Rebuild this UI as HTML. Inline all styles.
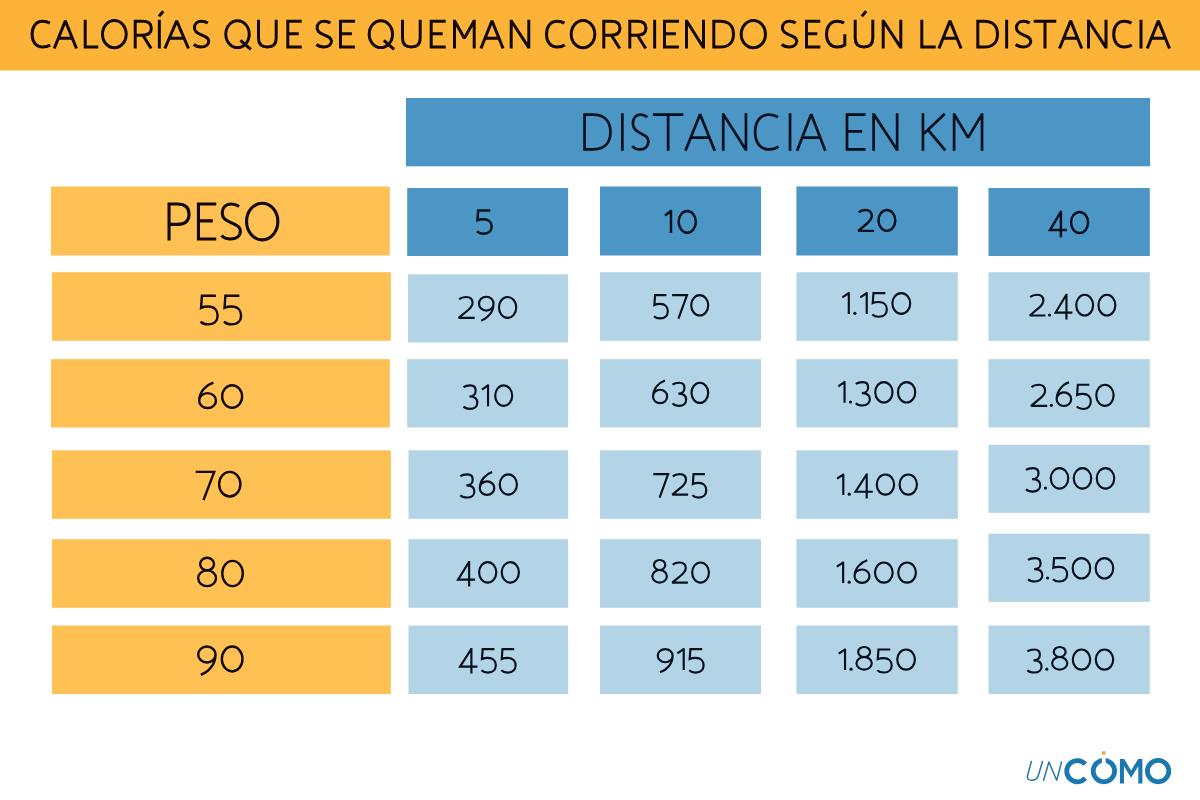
<!DOCTYPE html>
<html lang="es"><head><meta charset="utf-8"><title>Calorías que se queman corriendo según la distancia</title>
<style>
html,body{margin:0;padding:0;background:#fff}
body{width:1200px;height:800px;overflow:hidden;position:relative;font-family:"Liberation Sans",sans-serif}
svg{position:absolute;left:0;top:0;display:block}
.c{position:absolute;display:flex;align-items:center;justify-content:center;color:transparent;font-family:"Liberation Sans",sans-serif;font-size:30px;white-space:nowrap;overflow:hidden}
.logo{position:absolute;left:1025px;top:750px;width:147px;height:36px;color:transparent;font-size:20px;overflow:hidden}
</style></head><body>
<svg width="1200" height="800" viewBox="0 0 1200 800">
<g>
<rect x="0" y="0" width="1200.00" height="70.50" fill="#FDB338"/>
<rect x="406" y="98" width="744.00" height="68.30" fill="#4C96C6"/>
<rect x="51" y="186.5" width="338.80" height="69.00" fill="#FFC054"/>
<rect x="407.2" y="188" width="160.90" height="68.00" fill="#4C96C6"/>
<rect x="600" y="186.5" width="161.00" height="69.00" fill="#4C96C6"/>
<rect x="796.4" y="186.5" width="161.40" height="69.00" fill="#4C96C6"/>
<rect x="988.5" y="188" width="161.30" height="68.00" fill="#4C96C6"/>
<rect x="52" y="272.2" width="338.80" height="68.60" fill="#FFC054"/>
<rect x="51" y="359.2" width="338.80" height="68.30" fill="#FFC054"/>
<rect x="52" y="450.3" width="338.80" height="68.50" fill="#FFC054"/>
<rect x="52" y="539.2" width="338.80" height="68.60" fill="#FFC054"/>
<rect x="52" y="625.5" width="338.80" height="68.50" fill="#FFC054"/>
<rect x="408" y="274.3" width="160.10" height="68.20" fill="#B3D3E7"/>
<rect x="600" y="272.2" width="161.00" height="68.60" fill="#B3D3E7"/>
<rect x="796.4" y="272.2" width="161.40" height="68.60" fill="#B3D3E7"/>
<rect x="988.5" y="272.2" width="161.30" height="68.60" fill="#B3D3E7"/>
<rect x="407.2" y="359.2" width="160.90" height="68.30" fill="#B3D3E7"/>
<rect x="600" y="359.2" width="161.00" height="68.30" fill="#B3D3E7"/>
<rect x="796.4" y="359.2" width="161.40" height="68.30" fill="#B3D3E7"/>
<rect x="988.5" y="359.2" width="161.30" height="68.30" fill="#B3D3E7"/>
<rect x="408.5" y="450.3" width="159.60" height="68.50" fill="#B3D3E7"/>
<rect x="600" y="450.3" width="161.00" height="68.50" fill="#B3D3E7"/>
<rect x="796.4" y="450.3" width="161.40" height="68.50" fill="#B3D3E7"/>
<rect x="988.5" y="444.8" width="161.30" height="68.00" fill="#B3D3E7"/>
<rect x="408.5" y="539.2" width="159.60" height="68.60" fill="#B3D3E7"/>
<rect x="600" y="539.2" width="161.00" height="68.60" fill="#B3D3E7"/>
<rect x="796.4" y="539.2" width="161.40" height="68.60" fill="#B3D3E7"/>
<rect x="988.5" y="533.7" width="161.30" height="68.10" fill="#B3D3E7"/>
<rect x="408.5" y="625.5" width="159.60" height="68.50" fill="#B3D3E7"/>
<rect x="600" y="625.5" width="161.00" height="68.50" fill="#B3D3E7"/>
<rect x="796.4" y="625.5" width="161.40" height="68.50" fill="#B3D3E7"/>
<rect x="988.5" y="625.5" width="161.30" height="68.50" fill="#B3D3E7"/>
</g>
<g fill="none" stroke="#120906" stroke-width="3.0" stroke-miterlimit="4">
<path d="M49.84,23.10 C47.67,21.81 45.31,21.30 42.60,21.30 C36.08,21.30 32.10,26.44 32.10,34.15 C32.10,41.86 36.08,47.00 42.60,47.00 C45.31,47.00 47.85,46.49 50.20,44.94"/>
<path stroke-linejoin="bevel" d="M54.20,48.50 L65.35,20.85 L76.50,48.50 M58.62,38.26 L72.08,38.26"/>
<path d="M85.20,19.80 V47.00 H98.30"/>
<ellipse cx="114.35" cy="34.15" rx="11.85" ry="13.65"/>
<path d="M135.20,48.50 V21.30 H142.34 C148.80,21.30 151.35,23.87 151.35,28.24 C151.35,32.61 148.80,35.18 142.34,35.18 H135.20 M142.85,35.18 L151.15,48.50"/>
<path d="M159.35,19.80 V48.50 M158.95,16.40 L163.25,11.20"/>
<path stroke-linejoin="bevel" d="M164.90,48.50 L176.70,20.85 L188.50,48.50 M169.57,38.26 L183.83,38.26"/>
<path d="M207.75,23.10 C205.80,21.81 203.70,21.30 201.60,21.30 C197.10,21.30 194.40,23.87 194.40,27.98 C194.40,31.84 197.55,33.38 201.30,34.92 C205.80,36.72 208.80,38.01 208.80,41.09 C208.80,44.69 205.80,47.00 201.00,47.00 C198.30,47.00 195.60,46.23 193.80,44.43"/>
<ellipse cx="237.51" cy="34.15" rx="11.71" ry="13.45"/><path d="M240.44,40.32 L250.80,49.40"/>
<path d="M258.50,19.80 V38.26 C258.50,44.43 262.04,47.00 267.35,47.00 C272.66,47.00 276.20,44.43 276.20,38.26 V19.80"/>
<path d="M301.70,21.30 H287.80 V47.00 H301.70 M287.80,33.64 H298.71"/>
<path d="M330.45,23.10 C328.50,21.81 326.40,21.30 324.30,21.30 C319.80,21.30 317.10,23.87 317.10,27.98 C317.10,31.84 320.25,33.38 324.00,34.92 C328.50,36.72 331.50,38.01 331.50,41.09 C331.50,44.69 328.50,47.00 323.70,47.00 C321.00,47.00 318.30,46.23 316.50,44.43"/>
<path d="M355.00,21.30 H340.50 V47.00 H355.00 M340.50,33.64 H351.94"/>
<ellipse cx="380.86" cy="34.15" rx="11.66" ry="13.45"/><path d="M383.78,40.32 L394.10,49.40"/>
<path d="M402.50,19.80 V38.26 C402.50,44.43 406.04,47.00 411.35,47.00 C416.66,47.00 420.20,44.43 420.20,38.26 V19.80"/>
<path d="M445.70,21.30 H431.20 V47.00 H445.70 M431.20,33.64 H442.64"/>
<path stroke-linejoin="bevel" d="M454.50,48.50 V19.80 M454.50,20.70 L464.35,38.26 L474.20,20.70 M474.20,19.80 V48.50"/>
<path stroke-linejoin="bevel" d="M480.90,48.50 L492.00,20.85 L503.10,48.50 M485.30,38.26 L498.70,38.26"/>
<path stroke-linejoin="bevel" d="M511.20,48.50 V19.80 M511.20,20.70 L528.80,47.60 M528.80,48.50 V19.80"/>
<path d="M564.43,23.10 C562.24,21.81 559.86,21.30 557.11,21.30 C550.53,21.30 546.50,26.44 546.50,34.15 C546.50,41.86 550.53,47.00 557.11,47.00 C559.86,47.00 562.42,46.49 564.80,44.94"/>
<ellipse cx="583.00" cy="34.15" rx="11.80" ry="13.65"/>
<path d="M603.80,48.50 V21.30 H610.94 C617.40,21.30 619.95,23.87 619.95,28.24 C619.95,32.61 617.40,35.18 610.94,35.18 H603.80 M611.45,35.18 L619.75,48.50"/>
<path d="M629.80,48.50 V21.30 H636.94 C643.40,21.30 645.95,23.87 645.95,28.24 C645.95,32.61 643.40,35.18 636.94,35.18 H629.80 M637.45,35.18 L645.75,48.50"/>
<path d="M654.65,19.80 V48.50"/>
<path d="M679.00,21.30 H664.50 V47.00 H679.00 M664.50,33.64 H675.94"/>
<path stroke-linejoin="bevel" d="M686.50,48.50 V19.80 M686.50,20.70 L703.50,47.60 M703.50,48.50 V19.80"/>
<path d="M713.80,21.30 V47.00 H720.10 C729.17,47.00 733.50,41.86 733.50,34.15 C733.50,26.44 729.17,21.30 720.10,21.30 Z"/>
<ellipse cx="753.35" cy="34.15" rx="12.15" ry="13.65"/>
<path d="M795.75,23.10 C793.80,21.81 791.70,21.30 789.60,21.30 C785.10,21.30 782.40,23.87 782.40,27.98 C782.40,31.84 785.55,33.38 789.30,34.92 C793.80,36.72 796.80,38.01 796.80,41.09 C796.80,44.69 793.80,47.00 789.00,47.00 C786.30,47.00 783.60,46.23 781.80,44.43"/>
<path d="M820.30,21.30 H806.50 V47.00 H820.30 M806.50,33.64 H817.32"/>
<path d="M844.07,23.10 C842.05,21.81 839.68,21.30 837.11,21.30 C830.53,21.30 826.50,26.44 826.50,34.15 C826.50,41.86 830.53,47.00 837.11,47.00 C840.22,47.00 842.97,46.23 844.80,44.94 V34.15"/>
<path d="M855.20,19.80 V38.26 C855.20,44.43 858.72,47.00 864.00,47.00 C869.28,47.00 872.80,44.43 872.80,38.26 V19.80"/><path d="M861.80,16.40 L866.20,11.10"/>
<path stroke-linejoin="bevel" d="M883.20,48.50 V19.80 M883.20,20.70 L900.80,47.60 M900.80,48.50 V19.80"/>
<path d="M921.80,19.80 V47.00 H935.70"/>
<path stroke-linejoin="bevel" d="M938.90,48.50 L950.00,20.85 L961.10,48.50 M943.30,38.26 L956.70,38.26"/>
<path d="M977.80,21.30 V47.00 H984.10 C993.17,47.00 997.50,41.86 997.50,34.15 C997.50,26.44 993.17,21.30 984.10,21.30 Z"/>
<path d="M1006.65,19.80 V48.50"/>
<path d="M1029.75,23.10 C1027.80,21.81 1025.70,21.30 1023.60,21.30 C1019.10,21.30 1016.40,23.87 1016.40,27.98 C1016.40,31.84 1019.55,33.38 1023.30,34.92 C1027.80,36.72 1030.80,38.01 1030.80,41.09 C1030.80,44.69 1027.80,47.00 1023.00,47.00 C1020.30,47.00 1017.60,46.23 1015.80,44.43"/>
<path d="M1033.70,21.30 H1056.30 M1045.00,21.30 V48.50"/>
<path stroke-linejoin="bevel" d="M1059.50,48.50 L1070.65,20.85 L1081.80,48.50 M1063.92,38.26 L1077.38,38.26"/>
<path stroke-linejoin="bevel" d="M1088.50,48.50 V19.80 M1088.50,20.70 L1106.00,47.60 M1106.00,48.50 V19.80"/>
<path d="M1131.44,23.10 C1129.27,21.81 1126.91,21.30 1124.20,21.30 C1117.68,21.30 1113.70,26.44 1113.70,34.15 C1113.70,41.86 1117.68,47.00 1124.20,47.00 C1126.91,47.00 1129.45,46.49 1131.80,44.94"/>
<path d="M1141.00,19.80 V48.50"/>
<path stroke-linejoin="bevel" d="M1147.20,48.50 L1158.35,20.85 L1169.50,48.50 M1151.62,38.26 L1165.08,38.26"/>
</g>
<g fill="none" stroke="#04101c" stroke-width="2.7" stroke-miterlimit="4">
<path d="M584.55,114.65 V149.45 H592.84 C604.75,149.45 610.45,142.49 610.45,132.05 C610.45,121.61 604.75,114.65 592.84,114.65 Z"/>
<path d="M622.33,113.30 V150.80"/>
<path d="M647.27,117.09 C645.17,115.35 642.91,114.65 640.65,114.65 C635.80,114.65 632.90,118.13 632.90,123.70 C632.90,128.92 636.29,131.01 640.33,133.09 C645.17,135.53 648.40,137.27 648.40,141.45 C648.40,146.32 645.17,149.45 640.00,149.45 C637.10,149.45 634.19,148.41 632.25,145.97"/>
<path d="M653.00,114.65 H683.30 M668.15,114.65 V150.80"/>
<path stroke-linejoin="bevel" d="M685.48,150.80 L700.10,114.24 L714.72,150.80 M691.20,137.62 L709.00,137.62"/>
<path stroke-linejoin="bevel" d="M723.25,150.80 V113.30 M723.25,114.11 L745.95,149.99 M745.95,150.80 V113.30"/>
<path d="M777.98,117.09 C775.19,115.35 772.16,114.65 768.66,114.65 C760.28,114.65 755.15,121.61 755.15,132.05 C755.15,142.49 760.28,149.45 768.66,149.45 C772.16,149.45 775.42,148.75 778.45,146.67"/>
<path d="M790.05,113.30 V150.80"/>
<path stroke-linejoin="bevel" d="M797.08,150.80 L811.20,114.24 L825.32,150.80 M802.61,137.62 L819.79,137.62"/>
<path d="M865.60,114.65 H847.00 V149.45 H865.60 M847.00,131.35 H862.18"/>
<path stroke-linejoin="bevel" d="M873.60,150.80 V113.30 M873.60,114.11 L897.15,149.99 M897.15,150.80 V113.30"/>
<path d="M922.95,113.30 V150.80 M944.80,113.84 L924.07,133.44 M927.86,129.61 L945.25,150.40"/>
<path stroke-linejoin="bevel" d="M954.10,150.80 V113.30 M954.10,114.11 L968.08,137.62 L982.05,114.11 M982.05,113.30 V150.80"/>
</g>
<g fill="none" stroke="#120906" stroke-width="3.1" stroke-miterlimit="4">
<path d="M169.05,240.60 V204.05 H177.45 C186.05,204.05 189.05,208.25 189.05,214.20 C189.05,220.50 186.05,224.35 177.45,224.35 H169.05"/>
<path d="M216.25,204.05 H198.45 V239.05 H216.25 M198.45,220.85 H212.75"/>
<path d="M239.03,206.50 C236.59,204.75 233.96,204.05 231.33,204.05 C225.69,204.05 222.30,207.55 222.30,213.15 C222.30,218.40 226.25,220.50 230.95,222.60 C236.59,225.05 240.35,226.80 240.35,231.00 C240.35,235.90 236.59,239.05 230.57,239.05 C227.19,239.05 223.81,238.00 221.55,235.55"/>
<ellipse cx="262.20" cy="221.55" rx="15.65" ry="18.30"/>
</g>
<g fill="none" stroke="#04101c" color="#04101c" stroke-width="2.45" stroke-miterlimit="2.5">
<path d="M490.21,210.53 L478.20,210.53 L477.46,220.25 C479.22,219.44 481.42,219.23 483.62,219.23 C488.75,219.23 491.68,222.27 491.68,226.52 C491.68,230.78 488.75,233.67 483.62,233.67 C480.69,233.67 478.49,232.80 477.03,231.38"/>
</g>
<g fill="none" stroke="#04101c" color="#04101c" stroke-width="2.45" stroke-miterlimit="2.5">
<path d="M664.98,215.57 L671.71,210.53 M670.98,210.10 L670.98,233.10"/>
<ellipse cx="687.24" cy="221.85" rx="8.64" ry="10.82"/>
</g>
<g fill="none" stroke="#04101c" color="#04101c" stroke-width="2.45" stroke-miterlimit="2.5">
<path d="M858.76,212.27 C860.50,210.60 862.67,209.97 865.56,209.97 C869.61,209.97 871.78,212.48 871.78,215.83 C871.78,218.96 869.90,220.84 867.88,222.72 L858.33,230.88 L874.02,230.88"/>
<ellipse cx="886.90" cy="220.42" rx="8.38" ry="10.45"/>
</g>
<g fill="none" stroke="#04101c" color="#04101c" stroke-width="2.45" stroke-miterlimit="2.5">
<path d="M1060.88,211.68 L1050.08,229.96 L1066.96,229.96 M1060.88,210.70 L1060.88,237.14"/>
<ellipse cx="1079.58" cy="222.45" rx="8.50" ry="10.53"/>
</g>
<g fill="none" stroke="#120906" color="#120906" stroke-width="2.4" stroke-miterlimit="2.5">
<path d="M215.93,295.80 L201.92,295.80 L201.06,307.80 C203.11,306.80 205.68,306.55 208.24,306.55 C214.22,306.55 217.63,310.30 217.63,315.55 C217.63,320.80 214.22,324.38 208.24,324.38 C204.82,324.38 202.26,323.30 200.55,321.55"/>
<path d="M239.39,295.80 L225.38,295.80 L224.53,307.80 C226.58,306.80 229.14,306.55 231.70,306.55 C237.68,306.55 241.10,310.30 241.10,315.55 C241.10,320.80 237.68,324.38 231.70,324.38 C228.29,324.38 225.72,323.30 224.02,321.55"/>
</g>
<g fill="none" stroke="#120906" color="#120906" stroke-width="2.4" stroke-miterlimit="2.5">
<path d="M213.44,382.60 C205.90,384.97 199.20,391.98 199.20,400.57 A8.38,7.23 0 1 0 215.95,400.57 A8.38,7.23 0 1 0 199.20,400.57"/>
<ellipse cx="232.13" cy="396.50" rx="9.97" ry="11.30"/>
</g>
<g fill="none" stroke="#120906" color="#120906" stroke-width="2.4" stroke-miterlimit="2.5">
<path d="M195.70,471.90 L214.21,471.90 L203.48,500.19"/>
<ellipse cx="229.77" cy="484.20" rx="10.63" ry="12.30"/>
</g>
<g fill="none" stroke="#120906" color="#120906" stroke-width="2.4" stroke-miterlimit="2.5">
<ellipse cx="207.09" cy="564.05" rx="6.94" ry="6.30"/><ellipse cx="207.09" cy="578.23" rx="8.89" ry="7.87"/>
<ellipse cx="232.54" cy="573.50" rx="10.26" ry="12.60"/>
</g>
<g fill="none" stroke="#120906" color="#120906" stroke-width="2.4" stroke-miterlimit="2.5">
<path d="M200.80,674.75 C208.61,672.00 215.54,664.50 215.54,654.50 A8.67,8.00 0 1 0 198.20,654.50 A8.67,8.00 0 1 0 215.54,654.50"/>
<ellipse cx="232.18" cy="659.00" rx="10.32" ry="12.50"/>
</g>
<g fill="none" stroke="#04101c" color="#04101c" stroke-width="2.15" stroke-miterlimit="2.5">
<path d="M459.12,299.28 C460.92,297.60 463.16,296.97 466.14,296.97 C470.32,296.97 472.56,299.49 472.56,302.84 C472.56,305.98 470.62,307.87 468.53,309.75 L458.68,317.93 L474.68,317.93"/>
<path d="M481.23,320.65 C487.74,318.34 493.53,312.06 493.53,303.68 A7.24,6.70 0 1 0 479.06,303.68 A7.24,6.70 0 1 0 493.53,303.68"/>
<ellipse cx="507.60" cy="307.45" rx="8.62" ry="10.48"/>
</g>
<g fill="none" stroke="#04101c" color="#04101c" stroke-width="2.15" stroke-miterlimit="2.5">
<path d="M666.41,295.18 L655.08,295.18 L654.39,304.94 C656.05,304.13 658.12,303.93 660.19,303.93 C665.03,303.93 667.79,306.98 667.79,311.25 C667.79,315.53 665.03,318.44 660.19,318.44 C657.43,318.44 655.36,317.56 653.98,316.14"/>
<path d="M672.13,295.18 L687.02,295.18 L678.45,318.58"/>
<ellipse cx="699.72" cy="305.35" rx="8.50" ry="10.18"/>
</g>
<g fill="none" stroke="#04101c" color="#04101c" stroke-width="2.15" stroke-miterlimit="2.5">
<path d="M842.38,297.43 L849.44,292.64 M848.80,292.30 L848.80,314.10"/>
<circle cx="854.88" cy="313.30" r="1.60" stroke="none" fill="currentColor"/>
<path d="M860.31,297.43 L867.38,292.64 M866.73,292.30 L866.73,314.10"/>
<path d="M885.36,293.07 L873.45,293.07 L872.73,303.03 C874.47,302.20 876.65,302.00 878.82,302.00 C883.91,302.00 886.81,305.11 886.81,309.47 C886.81,313.82 883.91,316.79 878.82,316.79 C875.92,316.79 873.74,315.90 872.29,314.45"/>
<ellipse cx="901.30" cy="303.45" rx="8.93" ry="10.37"/>
</g>
<g fill="none" stroke="#04101c" color="#04101c" stroke-width="2.15" stroke-miterlimit="2.5">
<path d="M1030.21,297.06 C1031.96,295.40 1034.15,294.77 1037.07,294.77 C1041.15,294.77 1043.34,297.26 1043.34,300.58 C1043.34,303.70 1041.44,305.56 1039.40,307.43 L1029.78,315.53 L1045.43,315.53"/>
<circle cx="1049.53" cy="315.00" r="1.60" stroke="none" fill="currentColor"/>
<path d="M1066.45,294.56 L1055.62,312.56 L1072.35,312.56 M1066.45,293.70 L1066.45,319.46"/>
<ellipse cx="1084.67" cy="305.15" rx="8.42" ry="10.38"/>
<ellipse cx="1106.90" cy="305.15" rx="8.42" ry="10.38"/>
</g>
<g fill="none" stroke="#04101c" color="#04101c" stroke-width="2.15" stroke-miterlimit="2.5">
<path d="M463.47,387.22 C465.13,385.99 467.62,385.38 470.39,385.38 C473.85,385.38 475.64,387.43 475.64,390.72 C475.64,394.21 473.15,396.47 469.42,396.47 C474.54,396.47 477.30,398.94 477.30,402.64 C477.30,406.34 474.54,408.86 470.11,408.86 C467.35,408.86 464.86,407.98 463.47,406.54"/>
<path d="M481.96,389.69 L488.68,384.94 M488.03,384.60 L488.03,406.20"/>
<ellipse cx="503.71" cy="395.65" rx="8.51" ry="10.27"/>
</g>
<g fill="none" stroke="#04101c" color="#04101c" stroke-width="2.15" stroke-miterlimit="2.5">
<path d="M665.02,380.46 C658.70,382.57 653.08,388.82 653.08,396.48 A7.03,6.45 0 1 0 667.13,396.48 A7.03,6.45 0 1 0 653.08,396.48"/>
<path d="M672.50,384.59 C674.13,383.38 676.58,382.77 679.30,382.77 C682.70,382.77 684.47,384.79 684.47,388.01 C684.47,391.44 682.02,393.66 678.35,393.66 C683.38,393.66 686.10,396.07 686.10,399.70 C686.10,403.33 683.38,405.81 679.03,405.81 C676.31,405.81 673.86,404.94 672.50,403.53"/>
<ellipse cx="699.85" cy="392.85" rx="8.38" ry="10.08"/>
</g>
<g fill="none" stroke="#04101c" color="#04101c" stroke-width="2.15" stroke-miterlimit="2.5">
<path d="M838.38,386.37 L845.19,381.64 M844.54,381.30 L844.54,402.80"/>
<circle cx="850.50" cy="402.02" r="1.58" stroke="none" fill="currentColor"/>
<path d="M855.77,383.92 C857.46,382.69 859.98,382.07 862.79,382.07 C866.29,382.07 868.12,384.12 868.12,387.39 C868.12,390.87 865.59,393.12 861.80,393.12 C866.99,393.12 869.80,395.57 869.80,399.25 C869.80,402.93 866.99,405.45 862.51,405.45 C859.70,405.45 857.18,404.57 855.77,403.14"/>
<ellipse cx="883.88" cy="392.30" rx="8.63" ry="10.23"/>
<ellipse cx="906.60" cy="392.30" rx="8.63" ry="10.23"/>
</g>
<g fill="none" stroke="#04101c" color="#04101c" stroke-width="2.15" stroke-miterlimit="2.5">
<path d="M1031.53,387.10 C1033.33,385.41 1035.59,384.77 1038.60,384.77 C1042.81,384.77 1045.06,387.31 1045.06,390.70 C1045.06,393.87 1043.11,395.77 1041.00,397.68 L1031.08,405.93 L1047.19,405.93"/>
<circle cx="1051.38" cy="405.37" r="1.63" stroke="none" fill="currentColor"/>
<path d="M1069.02,382.34 C1062.46,384.56 1056.63,391.12 1056.63,399.16 A7.29,6.77 0 1 0 1071.21,399.16 A7.29,6.77 0 1 0 1056.63,399.16"/>
<path d="M1089.38,384.77 L1077.81,384.77 L1077.10,394.93 C1078.79,394.08 1080.91,393.87 1083.03,393.87 C1087.97,393.87 1090.79,397.04 1090.79,401.48 C1090.79,405.93 1087.97,408.95 1083.03,408.95 C1080.21,408.95 1078.09,408.04 1076.68,406.56"/>
<ellipse cx="1104.94" cy="395.35" rx="8.68" ry="10.58"/>
</g>
<g fill="none" stroke="#04101c" color="#04101c" stroke-width="2.15" stroke-miterlimit="2.5">
<path d="M460.38,476.20 C462.05,474.98 464.57,474.38 467.37,474.38 C470.87,474.38 472.69,476.40 472.69,479.64 C472.69,483.08 470.17,485.31 466.39,485.31 C471.57,485.31 474.36,487.74 474.36,491.38 C474.36,495.03 471.57,497.52 467.09,497.52 C464.29,497.52 461.77,496.65 460.38,495.23"/>
<path d="M492.09,472.05 C485.59,474.17 479.81,480.45 479.81,488.14 A7.23,6.48 0 1 0 494.26,488.14 A7.23,6.48 0 1 0 479.81,488.14"/>
<ellipse cx="508.32" cy="484.50" rx="8.61" ry="10.12"/>
</g>
<g fill="none" stroke="#04101c" color="#04101c" stroke-width="2.15" stroke-miterlimit="2.5">
<path d="M653.30,474.07 L668.15,474.07 L659.61,497.71"/>
<path d="M672.79,476.34 C674.56,474.69 676.76,474.07 679.70,474.07 C683.81,474.07 686.01,476.54 686.01,479.83 C686.01,482.91 684.10,484.76 682.05,486.61 L672.35,494.62 L688.12,494.62"/>
<path d="M704.85,474.07 L693.55,474.07 L692.86,483.94 C694.51,483.12 696.58,482.91 698.65,482.91 C703.47,482.91 706.23,485.99 706.23,490.31 C706.23,494.62 703.47,497.56 698.65,497.56 C695.89,497.56 693.82,496.68 692.45,495.24"/>
</g>
<g fill="none" stroke="#04101c" color="#04101c" stroke-width="2.15" stroke-miterlimit="2.5">
<path d="M837.08,478.71 L843.93,474.04 M843.29,473.70 L843.29,494.90"/>
<circle cx="849.24" cy="494.14" r="1.56" stroke="none" fill="currentColor"/>
<path d="M866.72,474.26 L855.53,491.74 L872.76,491.74 M866.72,473.40 L866.72,498.49"/>
<ellipse cx="885.42" cy="484.55" rx="8.68" ry="10.08"/>
<ellipse cx="908.25" cy="484.55" rx="8.68" ry="10.08"/>
</g>
<g fill="none" stroke="#04101c" color="#04101c" stroke-width="2.15" stroke-miterlimit="2.5">
<path d="M1025.98,469.92 C1027.68,468.69 1030.24,468.07 1033.08,468.07 C1036.64,468.07 1038.49,470.13 1038.49,473.42 C1038.49,476.91 1035.93,479.17 1032.09,479.17 C1037.35,479.17 1040.19,481.64 1040.19,485.34 C1040.19,489.04 1037.35,491.56 1032.80,491.56 C1029.96,491.56 1027.40,490.68 1025.98,489.24"/>
<circle cx="1045.43" cy="488.11" r="1.59" stroke="none" fill="currentColor"/>
<ellipse cx="1059.51" cy="478.35" rx="8.75" ry="10.27"/>
<ellipse cx="1082.49" cy="478.35" rx="8.75" ry="10.27"/>
<ellipse cx="1105.48" cy="478.35" rx="8.75" ry="10.27"/>
</g>
<g fill="none" stroke="#04101c" color="#04101c" stroke-width="2.15" stroke-miterlimit="2.5">
<path d="M469.12,561.86 L458.04,579.69 L475.12,579.69 M469.12,561.00 L469.12,586.54"/>
<ellipse cx="487.68" cy="572.35" rx="8.60" ry="10.28"/>
<ellipse cx="510.32" cy="572.35" rx="8.60" ry="10.28"/>
</g>
<g fill="none" stroke="#04101c" color="#04101c" stroke-width="2.15" stroke-miterlimit="2.5">
<ellipse cx="659.63" cy="564.99" rx="5.66" ry="5.04"/><ellipse cx="659.63" cy="576.33" rx="7.26" ry="6.30"/>
<path d="M672.70,564.69 C674.44,563.08 676.62,562.48 679.52,562.48 C683.59,562.48 685.77,564.89 685.77,568.12 C685.77,571.14 683.88,572.95 681.85,574.77 L672.26,582.63 L687.86,582.63"/>
<ellipse cx="700.54" cy="572.55" rx="8.39" ry="10.08"/>
</g>
<g fill="none" stroke="#04101c" color="#04101c" stroke-width="2.15" stroke-miterlimit="2.5">
<path d="M836.78,566.71 L843.78,562.05 M843.14,561.70 L843.14,582.90"/>
<circle cx="849.15" cy="582.14" r="1.56" stroke="none" fill="currentColor"/>
<path d="M867.22,560.16 C860.52,562.27 854.58,568.52 854.58,576.18 A7.44,6.45 0 1 0 869.45,576.18 A7.44,6.45 0 1 0 854.58,576.18"/>
<ellipse cx="883.83" cy="572.55" rx="8.85" ry="10.08"/>
<ellipse cx="907.07" cy="572.55" rx="8.85" ry="10.08"/>
</g>
<g fill="none" stroke="#04101c" color="#04101c" stroke-width="2.15" stroke-miterlimit="2.5">
<path d="M1028.08,559.92 C1029.79,558.69 1032.35,558.08 1035.20,558.08 C1038.76,558.08 1040.62,560.12 1040.62,563.39 C1040.62,566.87 1038.05,569.12 1034.20,569.12 C1039.48,569.12 1042.33,571.57 1042.33,575.25 C1042.33,578.93 1039.48,581.45 1034.92,581.45 C1032.07,581.45 1029.50,580.57 1028.08,579.14"/>
<circle cx="1047.56" cy="578.02" r="1.58" stroke="none" fill="currentColor"/>
<path d="M1065.74,558.08 L1054.05,558.08 L1053.34,567.89 C1055.05,567.07 1057.19,566.87 1059.32,566.87 C1064.31,566.87 1067.16,569.94 1067.16,574.23 C1067.16,578.53 1064.31,581.45 1059.32,581.45 C1056.47,581.45 1054.34,580.57 1052.91,579.14"/>
<ellipse cx="1081.43" cy="568.30" rx="8.77" ry="10.23"/>
<ellipse cx="1104.46" cy="568.30" rx="8.77" ry="10.23"/>
</g>
<g fill="none" stroke="#04101c" color="#04101c" stroke-width="2.15" stroke-miterlimit="2.5">
<path d="M471.40,648.86 L460.04,666.69 L477.50,666.69 M471.40,648.00 L471.40,673.54"/>
<path d="M494.39,649.08 L482.66,649.08 L481.95,658.94 C483.66,658.12 485.81,657.91 487.95,657.91 C492.96,657.91 495.82,660.99 495.82,665.31 C495.82,669.63 492.96,672.56 487.95,672.56 C485.09,672.56 482.95,671.68 481.52,670.24"/>
<path d="M514.20,649.08 L502.47,649.08 L501.75,658.94 C503.47,658.12 505.62,657.91 507.76,657.91 C512.77,657.91 515.62,660.99 515.62,665.31 C515.62,669.63 512.77,672.56 507.76,672.56 C504.90,672.56 502.76,671.68 501.33,670.24"/>
</g>
<g fill="none" stroke="#04101c" color="#04101c" stroke-width="2.15" stroke-miterlimit="2.5">
<path d="M660.00,672.30 C666.68,670.04 672.62,663.87 672.62,655.65 A7.42,6.58 0 1 0 657.78,655.65 A7.42,6.58 0 1 0 672.62,655.65"/>
<path d="M677.37,653.39 L684.37,648.65 M683.72,648.30 L683.72,669.90"/>
<path d="M702.19,649.08 L690.40,649.08 L689.68,658.94 C691.40,658.12 693.56,657.91 695.72,657.91 C700.75,657.91 703.62,660.99 703.62,665.31 C703.62,669.63 700.75,672.56 695.72,672.56 C692.84,672.56 690.69,671.68 689.25,670.24"/>
</g>
<g fill="none" stroke="#04101c" color="#04101c" stroke-width="2.15" stroke-miterlimit="2.5">
<path d="M838.68,653.71 L845.67,649.05 M845.03,648.70 L845.03,669.90"/>
<circle cx="851.04" cy="669.14" r="1.56" stroke="none" fill="currentColor"/>
<ellipse cx="864.13" cy="651.99" rx="5.98" ry="5.04"/><ellipse cx="864.13" cy="663.33" rx="7.66" ry="6.30"/>
<path d="M890.27,649.48 L878.47,649.48 L877.75,659.15 C879.48,658.34 881.64,658.14 883.79,658.14 C888.83,658.14 891.70,661.16 891.70,665.39 C891.70,669.63 888.83,672.51 883.79,672.51 C880.92,672.51 878.76,671.64 877.32,670.23"/>
<ellipse cx="906.08" cy="659.55" rx="8.85" ry="10.08"/>
</g>
<g fill="none" stroke="#04101c" color="#04101c" stroke-width="2.15" stroke-miterlimit="2.5">
<path d="M1027.38,651.29 C1029.08,650.08 1031.64,649.48 1034.48,649.48 C1038.03,649.48 1039.88,651.49 1039.88,654.71 C1039.88,658.14 1037.32,660.36 1033.48,660.36 C1038.74,660.36 1041.58,662.77 1041.58,666.40 C1041.58,670.03 1038.74,672.51 1034.19,672.51 C1031.35,672.51 1028.80,671.64 1027.38,670.23"/>
<circle cx="1046.79" cy="669.14" r="1.56" stroke="none" fill="currentColor"/>
<ellipse cx="1059.71" cy="651.99" rx="5.91" ry="5.04"/><ellipse cx="1059.71" cy="663.33" rx="7.57" ry="6.30"/>
<ellipse cx="1081.52" cy="659.55" rx="8.74" ry="10.08"/>
<ellipse cx="1104.49" cy="659.55" rx="8.74" ry="10.08"/>
</g>
<g fill="none" stroke="#27789f" stroke-width="1.5" stroke-linecap="round" stroke-linejoin="round">
<path d="M1031.3 761.5 L1027.6 775.5 Q1026.6 780.3 1031.5 780.3 Q1037 780.3 1038.3 775.5 L1042.5 761.5"/>
<path d="M1043.6 780.3 L1048.9 761.9 L1056.7 780.3 L1061.6 761.9"/>
</g>
<g fill="none" stroke="#1b77b0" stroke-width="4.8">
<path d="M1085.3 764.2 A10.6 10.6 0 1 0 1085.3 778.2"/>
<circle cx="1103.9" cy="771.1" r="10.7"/>
<circle cx="1158.1" cy="771.1" r="10.7"/>
</g>
<rect x="1101.9" y="756" width="3.8" height="7.6" fill="#fff"/>
<path fill="#1b77b0" d="M1119.9 783.6 V758.9 H1124.2 L1131.1 770.5 L1138.2 758.9 H1142.4 V783.6 H1138.3 V766.2 L1131.1 777.8 L1124 766.2 V783.6 Z"/>
<rect x="1101.9" y="751.2" width="3.7" height="3.4" rx="0.8" fill="#F5A13A"/>
</svg>
<div class="c" style="left:0px;top:0px;width:1200.0px;height:70.5px">CALORÍAS QUE SE QUEMAN CORRIENDO SEGÚN LA DISTANCIA</div>
<div class="c" style="left:406px;top:98px;width:744.0px;height:68.3px">DISTANCIA EN KM</div>
<div class="c" style="left:51px;top:186.5px;width:338.8px;height:69.0px">PESO</div>
<div class="c" style="left:407.2px;top:188px;width:160.9px;height:68.0px">5</div>
<div class="c" style="left:600px;top:186.5px;width:161.0px;height:69.0px">10</div>
<div class="c" style="left:796.4px;top:186.5px;width:161.4px;height:69.0px">20</div>
<div class="c" style="left:988.5px;top:188px;width:161.3px;height:68.0px">40</div>
<div class="c" style="left:52px;top:272.2px;width:338.8px;height:68.6px">55</div>
<div class="c" style="left:51px;top:359.2px;width:338.8px;height:68.3px">60</div>
<div class="c" style="left:52px;top:450.3px;width:338.8px;height:68.5px">70</div>
<div class="c" style="left:52px;top:539.2px;width:338.8px;height:68.6px">80</div>
<div class="c" style="left:52px;top:625.5px;width:338.8px;height:68.5px">90</div>
<div class="c" style="left:408px;top:274.3px;width:160.1px;height:68.2px">290</div>
<div class="c" style="left:600px;top:272.2px;width:161.0px;height:68.6px">570</div>
<div class="c" style="left:796.4px;top:272.2px;width:161.4px;height:68.6px">1.150</div>
<div class="c" style="left:988.5px;top:272.2px;width:161.3px;height:68.6px">2.400</div>
<div class="c" style="left:407.2px;top:359.2px;width:160.9px;height:68.3px">310</div>
<div class="c" style="left:600px;top:359.2px;width:161.0px;height:68.3px">630</div>
<div class="c" style="left:796.4px;top:359.2px;width:161.4px;height:68.3px">1.300</div>
<div class="c" style="left:988.5px;top:359.2px;width:161.3px;height:68.3px">2.650</div>
<div class="c" style="left:408.5px;top:450.3px;width:159.6px;height:68.5px">360</div>
<div class="c" style="left:600px;top:450.3px;width:161.0px;height:68.5px">725</div>
<div class="c" style="left:796.4px;top:450.3px;width:161.4px;height:68.5px">1.400</div>
<div class="c" style="left:988.5px;top:444.8px;width:161.3px;height:68.0px">3.000</div>
<div class="c" style="left:408.5px;top:539.2px;width:159.6px;height:68.6px">400</div>
<div class="c" style="left:600px;top:539.2px;width:161.0px;height:68.6px">820</div>
<div class="c" style="left:796.4px;top:539.2px;width:161.4px;height:68.6px">1.600</div>
<div class="c" style="left:988.5px;top:533.7px;width:161.3px;height:68.1px">3.500</div>
<div class="c" style="left:408.5px;top:625.5px;width:159.6px;height:68.5px">455</div>
<div class="c" style="left:600px;top:625.5px;width:161.0px;height:68.5px">915</div>
<div class="c" style="left:796.4px;top:625.5px;width:161.4px;height:68.5px">1.850</div>
<div class="c" style="left:988.5px;top:625.5px;width:161.3px;height:68.5px">3.800</div>
<div class="logo">unCOMO</div>
</body></html>
